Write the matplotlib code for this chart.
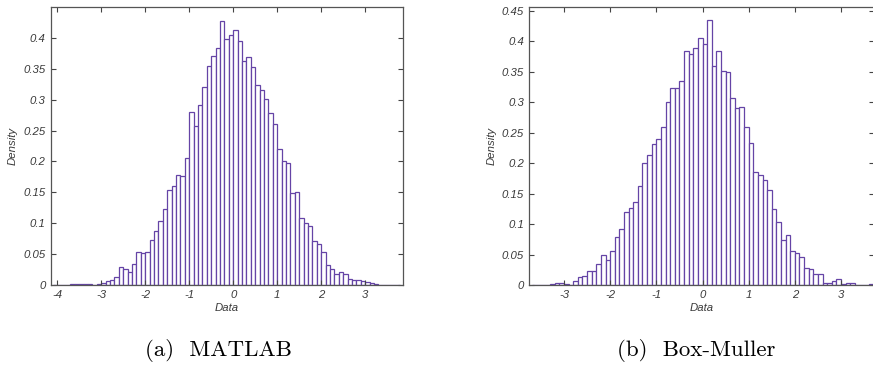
import matplotlib
matplotlib.use("Agg")
import matplotlib.pyplot as plt
import numpy as np

# ---- data ----
bin_width = 0.1

# (a) MATLAB histogram: bins start at -4.1
matlab_start = -4.1
matlab_density = [
    0.001, 0, 0, 0, 0.002, 0.002, 0.002, 0.002, 0.002, 0,
    0.002, 0.004, 0.007, 0.009, 0.013, 0.029, 0.026, 0.021, 0.034, 0.053,
    0.052, 0.053, 0.073, 0.087, 0.104, 0.123, 0.154, 0.161, 0.178, 0.177,
    0.206, 0.280, 0.258, 0.291, 0.321, 0.355, 0.370, 0.384, 0.427, 0.397,
    0.405, 0.413, 0.394, 0.363, 0.368, 0.353, 0.323, 0.315, 0.301, 0.279,
    0.261, 0.220, 0.200, 0.197, 0.149, 0.151, 0.109, 0.100, 0.095, 0.072,
    0.066, 0.053, 0.032, 0.027, 0.018, 0.022, 0.019, 0.010, 0.009, 0.009,
    0.007, 0.006, 0.003, 0.002, 0.001, 0, 0, 0, 0.001,
]

# (b) Box-Muller histogram: bins start at -3.7
boxmuller_start = -3.7
boxmuller_density = [
    0.001, 0.001, 0.001, 0.001, 0.002, 0.003, 0.003, 0.002, 0.001, 0.007,
    0.013, 0.015, 0.024, 0.024, 0.035, 0.050, 0.041, 0.056, 0.079, 0.092,
    0.120, 0.127, 0.136, 0.163, 0.200, 0.214, 0.231, 0.240, 0.259, 0.300,
    0.323, 0.323, 0.335, 0.384, 0.380, 0.390, 0.406, 0.395, 0.435, 0.359,
    0.385, 0.351, 0.350, 0.308, 0.291, 0.293, 0.259, 0.234, 0.186, 0.181,
    0.172, 0.157, 0.125, 0.104, 0.075, 0.082, 0.056, 0.053, 0.046, 0.028,
    0.026, 0.019, 0.019, 0.004, 0.003, 0.007, 0.010, 0.002, 0.003, 0.003,
    0, 0, 0, 0.002,
]

matlab_xticks = [-4, -3, -2, -1, 0, 1, 2, 3]
boxmuller_xticks = [-3, -2, -1, 0, 1, 2, 3]
matlab_yticks = [0, 0.05, 0.1, 0.15, 0.2, 0.25, 0.3, 0.35, 0.4]
boxmuller_yticks = [0, 0.05, 0.1, 0.15, 0.2, 0.25, 0.3, 0.35, 0.4, 0.45]

captions = ["(a)  MATLAB", "(b)  Box-Muller"]
xlabel = "Data"
ylabel = "Density"

# ---- styling ----
W, H = 873, 365
fig = plt.figure(figsize=(W / 100, H / 100), dpi=100)
fig.patch.set_facecolor("white")

edge_col = "#6544a6"
sans = ["Liberation Sans", "DejaVu Sans"]
tick_font = dict(family=sans, style="italic", size=8.2, color="#3a3a3a")
label_font = dict(family=sans, style="italic", size=8.2, color="#3a3a3a")


def fmt(v):
    return "%g" % v


def panel(rect, start, dens, xlim, ylim, xticks, yticks, caption, cap_x):
    ax = fig.add_axes(rect)
    n = len(dens)
    lefts = start + bin_width * np.arange(n)
    ax.bar(lefts, dens, width=bin_width, align="edge", facecolor="white",
           edgecolor=edge_col, linewidth=0.9)
    ax.set_xlim(*xlim)
    ax.set_ylim(*ylim)
    ax.set_xticks(xticks)
    ax.set_yticks(yticks)
    ax.set_xticklabels([fmt(v) for v in xticks], fontdict=tick_font)
    ax.set_yticklabels([fmt(v) for v in yticks], fontdict=tick_font)
    ax.tick_params(direction="in", length=3.5, width=0.8, color="#444444",
                   top=True, right=True, pad=3.5)
    for s in ax.spines.values():
        s.set_color("#555555")
        s.set_linewidth(0.9)
    ax.set_xlabel(xlabel, fontdict=label_font, labelpad=2)
    ax.set_ylabel(ylabel, fontdict=label_font, labelpad=4)
    fig.text(cap_x, 1 - 350 / H, caption, ha="center", va="center",
             family=["cmr10", "DejaVu Serif"], size=16.5)
    return ax


ax1 = panel([50.7 / W, 1 - 285.3 / H, 352.6 / W, 278.0 / H],
            matlab_start, matlab_density, (-4.15, 3.865), (0, 0.449),
            matlab_xticks, matlab_yticks, captions[0], 218 / W)

ax2 = panel([529 / W, 1 - 285.3 / H, 345 / W, 278.0 / H],
            boxmuller_start, boxmuller_density, (-3.758, 3.714), (0, 0.456),
            boxmuller_xticks, boxmuller_yticks, captions[1], 696 / W)

fig.savefig("out.png", dpi=100, facecolor="white")
